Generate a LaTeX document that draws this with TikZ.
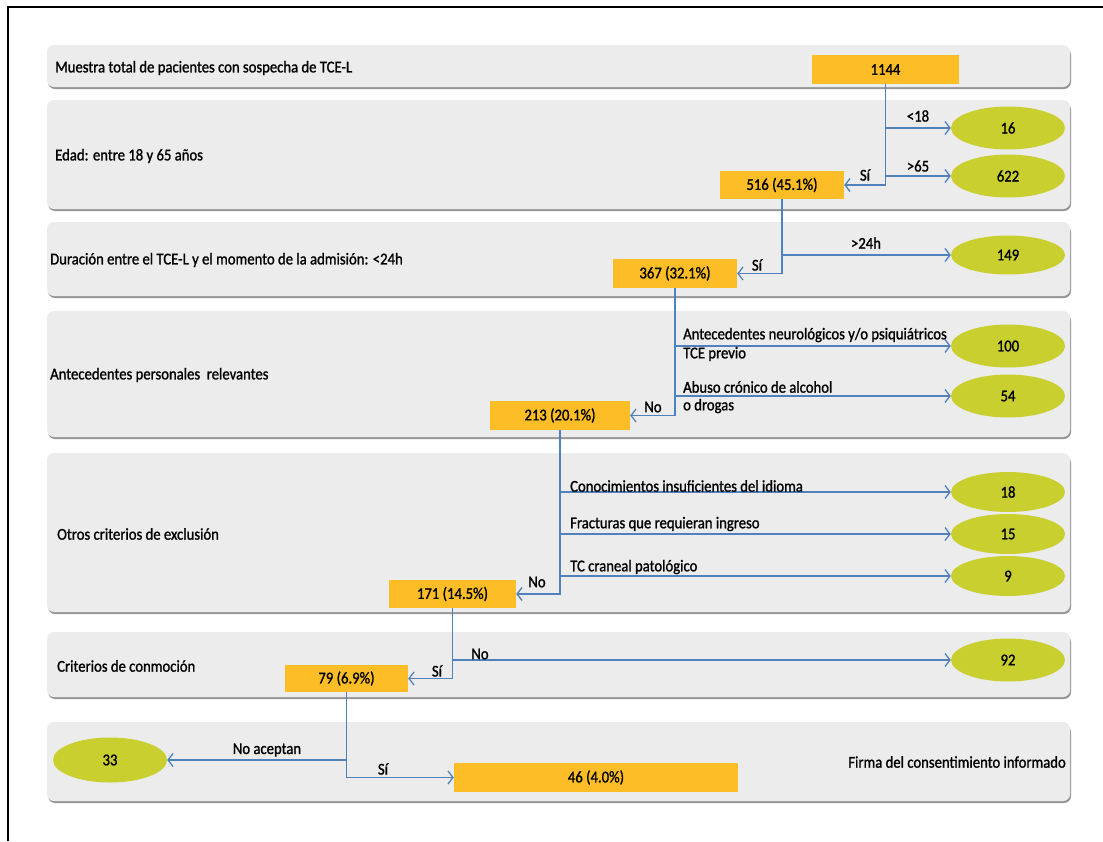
\documentclass[tikz,border=0pt]{standalone}
\usepackage{fontspec}
\setmainfont{Carlito}[FakeStretch=0.89,FakeBold=1.2]
\usetikzlibrary{arrows.meta,shapes.geometric}
\definecolor{bandgray}{RGB}{236,236,236}
\definecolor{shadowgray}{RGB}{150,150,150}
\definecolor{boxorange}{RGB}{253,189,38}
\definecolor{ellolive}{RGB}{200,207,46}
\definecolor{linkblue}{RGB}{79,129,189}
\tikzset{
  txt/.style={font=\fontsize{16.5}{18}\selectfont, inner sep=0pt, text=black},
  title/.style={txt, anchor=west},
  box/.style={txt, anchor=center, fill=boxorange, minimum height=29pt, inner sep=0pt},
  ell/.style={txt, ellipse, fill=ellolive, minimum width=114pt, minimum height=43pt, inner sep=0pt},
  conn/.style={draw=linkblue, line width=1.6pt, -{Straight Barb[length=5pt,width=13pt,line width=1.3pt]}},
}
\newcommand{\band}[2]{%
  \fill[shadowgray, rounded corners=7pt] (48,#1+3) rectangle (1071,#2+2);
  \fill[bandgray, rounded corners=7pt] (47,#1) rectangle (1070,#2);
}
\begin{document}
\begin{tikzpicture}[x=1pt,y=-1pt]
\useasboundingbox (0,0) rectangle (1103,841);
\fill[white] (0,0) rectangle (1103,841);
\draw[line width=1.5pt] (8,841) -- (8,7) -- (1103,7);
% bands
\band{45}{87}
\band{100}{209}
\band{222}{296}
\band{311}{437}
\band{453}{612}
\band{632}{697}
\band{722}{801}
% titles
\node[title] (t1) at (55,68) {Muestra total de pacientes con sospecha de TCE-L};
\node[title] (t2) at (55,156) {Edad: entre 18 y 65 años};
\node[title] (t3) at (50,260) {Duración entre el TCE-L y el momento de la admisión: <24h};
\node[title] (t4) at (50,375) {Antecedentes personales\ \ relevantes};
\node[title] (t5) at (57,534) {Otros criterios de exclusión};
\node[title] (t6) at (57,666) {Criterios de conmoción};
\node[txt, anchor=east] (t7) at (1066,762) {Firma del consentimiento informado};
% boxes
\node[box, minimum width=147pt] (n1144) at (885.5,69.5) {1144};
\node[box, minimum width=124pt, minimum height=28pt] (n516) at (782,185) {516 (45.1\%)};
\node[box, minimum width=124pt] (n367) at (675,273.5) {367 (32.1\%)};
\node[box, minimum width=140pt] (n213) at (560,415.5) {213 (20.1\%)};
\node[box, minimum width=127pt, minimum height=28pt] (n171) at (452.5,594) {171 (14.5\%)};
\node[box, minimum width=123pt, minimum height=27pt] (n79) at (346.5,678.5) {79 (6.9\%)};
\node[box, minimum width=284pt] (n46) at (596,777.5) {46 (4.0\%)};
% ellipses
\node[ell] (e16) at (1008,128) {16};
\node[ell] (e622) at (1008,176) {622};
\node[ell, minimum height=39pt] (e149) at (1008,255) {149};
\node[ell] (e100) at (1008,346) {100};
\node[ell] (e54) at (1008,396) {54};
\node[ell, minimum height=40pt] (e18) at (1008,492) {18};
\node[ell, minimum height=40pt] (e15) at (1008,534) {15};
\node[ell, minimum height=40pt] (e9) at (1008,576) {9};
\node[ell] (e92) at (1008,660) {92};
\node[ell, minimum height=45pt] (e33) at (110,760) {33};
% connectors
\draw[conn] (n1144.south) |- (n516.east);
\draw[conn] (n1144.south |- e16.west) -- (e16.west);
\draw[conn] (n1144.south |- e622.west) -- (e622.west);
\draw[conn] (n516.south) |- (n367.east);
\draw[conn] (n516.south |- e149.west) -- (e149.west);
\draw[conn] (n367.south) |- (n213.east);
\draw[conn] (n367.south |- e100.west) -- (e100.west);
\draw[conn] (n367.south |- e54.west) -- (e54.west);
\draw[conn] (n213.south) |- (n171.east);
\draw[conn] (n213.south |- e18.west) -- (e18.west);
\draw[conn] (n213.south |- e15.west) -- (e15.west);
\draw[conn] (n213.south |- e9.west) -- (e9.west);
\draw[conn] (n171.south) |- (n79.east);
\draw[conn] (n171.south |- e92.west) -- (e92.west);
\draw[conn] (n79.south) |- (n46.west);
\draw[conn] (n79.south |- e33.east) -- (e33.east);
% labels
\node[txt] (l18) at (918,116) {<18};
\node[txt] (l65) at (918,166) {>65};
\node[txt] (lsi1) at (865,175) {Sí};
\node[txt] (l24) at (866,243) {>24h};
\node[txt] (lsi2) at (757,265) {Sí};
\node[txt, anchor=west] (la1) at (683,335) {Antecedentes neurológicos y/o psiquiátricos};
\node[txt, anchor=west] (la2) at (683,354) {TCE previo};
\node[txt, anchor=west] (lb1) at (683,387) {Abuso crónico de alcohol};
\node[txt, anchor=west] (lb2) at (683,406) {o drogas};
\node[txt] (lno1) at (653,407) {No};
\node[txt, anchor=west] (lc1) at (570,486) {Conocimientos insuficientes del idioma};
\node[txt, anchor=west] (lc2) at (570,524) {Fracturas que requieran ingreso};
\node[txt, anchor=west] (lc3) at (570,567) {TC craneal patológico};
\node[txt] (lno2) at (537,582) {No};
\node[txt] (lno3) at (480,654) {No};
\node[txt] (lsi3) at (437,671) {Sí};
\node[txt] (lna) at (267,750) {No aceptan};
\node[txt] (lsi4) at (383,769) {Sí};
\end{tikzpicture}
\end{document}
